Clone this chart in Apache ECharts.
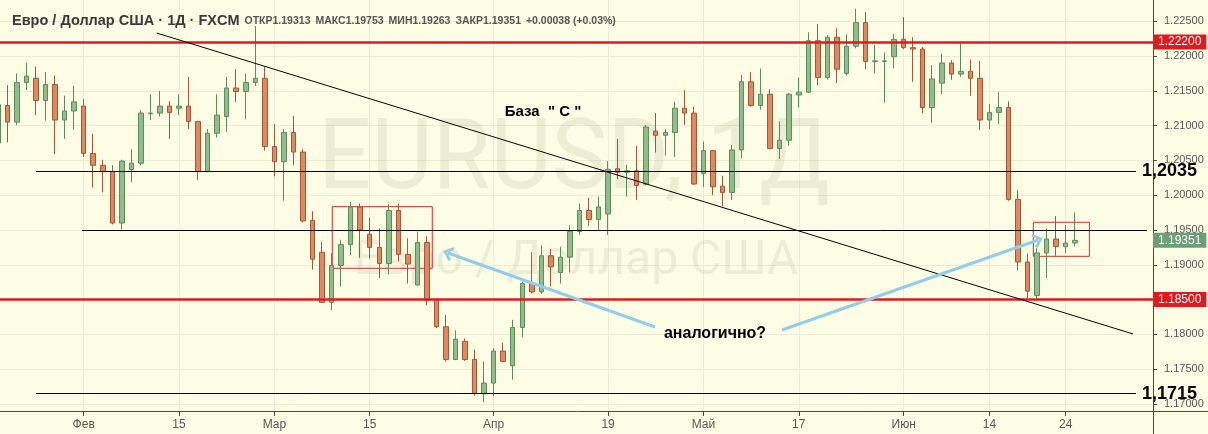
<!DOCTYPE html>
<html><head><meta charset="utf-8">
<script src="https://cdn.jsdelivr.net/npm/echarts@6/dist/echarts.min.js"></script>
<style>html,body{margin:0;padding:0;background:#fff;}#c{width:1208px;height:434px;}</style>
</head><body><div id="c"></div>
<script>
// ---- data (EUR/USD daily, FXCM) ----
const dates = ['2021-01-19','2021-01-20','2021-01-21','2021-01-22','2021-01-25','2021-01-26','2021-01-27','2021-01-28','2021-01-29',
'2021-02-01','2021-02-02','2021-02-03','2021-02-04','2021-02-05','2021-02-08','2021-02-09','2021-02-10','2021-02-11','2021-02-12',
'2021-02-15','2021-02-16','2021-02-17','2021-02-18','2021-02-19','2021-02-22','2021-02-23','2021-02-24','2021-02-25','2021-02-26',
'2021-03-01','2021-03-02','2021-03-03','2021-03-04','2021-03-05','2021-03-08','2021-03-09','2021-03-10','2021-03-11','2021-03-12',
'2021-03-15','2021-03-16','2021-03-17','2021-03-18','2021-03-19','2021-03-22','2021-03-23','2021-03-24','2021-03-25','2021-03-26',
'2021-03-29','2021-03-30','2021-03-31','2021-04-01','2021-04-02','2021-04-05','2021-04-06','2021-04-07','2021-04-08','2021-04-09',
'2021-04-12','2021-04-13','2021-04-14','2021-04-15','2021-04-16','2021-04-19','2021-04-20','2021-04-21','2021-04-22','2021-04-23',
'2021-04-26','2021-04-27','2021-04-28','2021-04-29','2021-04-30','2021-05-03','2021-05-04','2021-05-05','2021-05-06','2021-05-07',
'2021-05-10','2021-05-11','2021-05-12','2021-05-13','2021-05-14','2021-05-17','2021-05-18','2021-05-19','2021-05-20','2021-05-21',
'2021-05-24','2021-05-25','2021-05-26','2021-05-27','2021-05-28','2021-05-31','2021-06-01','2021-06-02','2021-06-03','2021-06-04',
'2021-06-07','2021-06-08','2021-06-09','2021-06-10','2021-06-11','2021-06-14','2021-06-15','2021-06-16','2021-06-17','2021-06-18',
'2021-06-21','2021-06-22','2021-06-23','2021-06-24','2021-06-25'];
const open = [1.2075,1.2129,1.2105,1.2162,1.2168,1.2136,1.2159,1.2108,1.2121,
1.2128,1.2060,1.2043,1.2034,1.1960,1.2037,1.2046,1.2117,1.2118,1.2128,
1.2125,1.2128,1.2106,1.2034,1.2089,1.2113,1.2154,1.2149,1.2162,1.2168,
1.2070,1.2048,1.2090,1.2062,1.1964,1.1918,1.1846,1.1899,1.1929,1.1983,
1.1944,1.1925,1.1902,1.1978,1.1915,1.1871,1.1932,1.1849,1.1811,1.1764,
1.1790,1.1764,1.1715,1.1730,1.1776,1.1755,1.1810,1.1874,1.1861,1.1913,
1.1889,1.1911,1.1948,1.1978,1.1965,1.1973,1.2038,1.2033,1.2035,1.2016,
1.2092,1.2086,1.2090,1.2125,1.2118,1.2031,1.2064,1.2013,1.2004,1.2065,
1.2163,1.2129,1.2145,1.2067,1.2079,1.2144,1.2148,1.2222,1.2169,1.2227,
1.2175,1.2214,1.2248,1.2192,1.2192,1.2199,1.2224,1.2212,1.2210,1.2126,
1.2161,1.2190,1.2174,1.2178,1.2168,1.2108,1.2119,1.2126,1.1994,1.1904,
1.1856,1.1917,1.1937,1.1926,1.19313];
const close = [1.2130,1.2105,1.2162,1.2171,1.2136,1.2159,1.2108,1.2121,1.2134,
1.2060,1.2043,1.2034,1.1960,1.2049,1.2046,1.2118,1.2118,1.2128,1.2119,
1.2128,1.2106,1.2034,1.2089,1.2115,1.2154,1.2149,1.2162,1.2168,1.2070,
1.2048,1.2090,1.2062,1.1963,1.1908,1.1846,1.1899,1.1929,1.1983,1.1950,
1.1925,1.1902,1.1978,1.1915,1.1901,1.1932,1.1849,1.1811,1.1764,1.1793,
1.1764,1.1715,1.1730,1.1776,1.1761,1.1810,1.1873,1.1861,1.1913,1.1897,
1.1911,1.1948,1.1978,1.1965,1.1983,1.2037,1.2033,1.2035,1.2014,1.2098,
1.2086,1.2090,1.2125,1.2118,1.2016,1.2064,1.2012,1.2004,1.2065,1.2163,
1.2129,1.2145,1.2067,1.2079,1.2145,1.2148,1.2222,1.2169,1.2227,1.2181,
1.2214,1.2248,1.2192,1.2193,1.2193,1.2224,1.2212,1.2210,1.2126,1.2167,
1.2190,1.2174,1.2178,1.2168,1.2108,1.2119,1.2126,1.1994,1.1904,1.1862,
1.1917,1.1937,1.1926,1.19313,1.19351];
const low = [1.2070,1.2076,1.2101,1.2151,1.2115,1.2107,1.2059,1.2081,1.2094,
1.2055,1.2011,1.2004,1.1958,1.1951,1.2019,1.2043,1.2108,1.2113,1.2081,
1.2115,1.2095,1.2022,1.2033,1.2083,1.2091,1.2134,1.2109,1.2157,1.2064,
1.2027,1.1992,1.2043,1.1961,1.1893,1.1845,1.1835,1.1869,1.1914,1.1910,
1.1909,1.1881,1.1886,1.1905,1.1873,1.1870,1.1842,1.1809,1.1761,1.1763,
1.1762,1.1712,1.1703,1.1711,1.1760,1.1735,1.1796,1.1859,1.1858,1.1869,
1.1873,1.1889,1.1943,1.1956,1.1950,1.1943,1.2023,1.1998,1.1993,1.2014,
1.2061,1.2057,1.2055,1.2101,1.2015,1.2012,1.2000,1.1984,1.1993,1.2053,
1.2127,1.2123,1.2066,1.2052,1.2071,1.2126,1.2147,1.2158,1.2166,1.2161,
1.2172,1.2211,1.2181,1.2175,1.2133,1.2182,1.2210,1.2163,1.2118,1.2104,
1.2145,1.2166,1.2170,1.2143,1.2094,1.2095,1.2102,1.1992,1.1892,1.1852,
1.1848,1.1881,1.1913,1.1917,1.19263];
const high = [1.2145,1.2158,1.2175,1.2190,1.2185,1.2177,1.2172,1.2143,1.2157,
1.2138,1.2088,1.2051,1.2043,1.2051,1.2066,1.2122,1.2145,1.2150,1.2135,
1.2145,1.2170,1.2107,1.2095,1.2145,1.2170,1.2181,1.2175,1.2243,1.2184,
1.2102,1.2095,1.2114,1.2066,1.1977,1.1933,1.1917,1.1936,1.1990,1.1988,
1.1968,1.1952,1.1987,1.1988,1.1938,1.1948,1.1941,1.1851,1.1828,1.1806,
1.1794,1.1778,1.1761,1.1780,1.1788,1.1821,1.1876,1.1918,1.1928,1.1923,
1.1926,1.1957,1.1988,1.1996,1.1998,1.2049,1.2081,1.2044,1.2071,1.2101,
1.2118,1.2095,1.2134,1.2151,1.2127,1.2077,1.2065,1.2028,1.2072,1.2173,
1.2177,1.2182,1.2152,1.2106,1.2147,1.2169,1.2234,1.2246,1.2230,1.2240,
1.2231,1.2268,1.2263,1.2216,1.2205,1.2232,1.2256,1.2227,1.2213,1.2187,
1.2203,1.2194,1.2219,1.2195,1.2193,1.2131,1.2148,1.2135,1.2007,1.1916,
1.1924,1.1952,1.1970,1.1957,1.19753];
const xTickDates = ['2021-02-01','2021-02-15','2021-03-01','2021-03-15','2021-04-01','2021-04-19','2021-05-03','2021-05-17','2021-06-01','2021-06-14','2021-06-24'];
const xTickLabels = ['Фев','15','Мар','15','Апр','19','Май','17','Июн','14','24'];
const yTicks = [1.170,1.175,1.180,1.185,1.190,1.195,1.200,1.205,1.210,1.215,1.220,1.225];
const redLevels = [1.222, 1.185];
const blackLevels = [1.2035, 1.195, 1.1715];
const blackLabels = ['1,2035', '', '1,1715'];

// ---- annotation geometry (bar-index / price space) ----
const blackSpan = [[4.0, 119.37], [8.82, 120.53], [4.0, 119.37]];
const trend = [[16.66, 1.2233], [119.06, 1.18006]];
const boxes = [[[35.07, 1.19835], [45.56, 1.1895]], [[108.6, 1.19611], [114.48, 1.19122]]];
const arrows = [[[68.92, 1.18106], [47.21, 1.19170]], [[82.24, 1.18063], [109.1, 1.19356]]];

const last = dates.length - 1;
const chg = close[last] - close[last - 1];
const pct = chg / close[last - 1] * 100;
const tickIdx = xTickDates.map(d => dates.indexOf(d));
const candles = dates.map((d, i) => [i, open[i], close[i], low[i], high[i]]);

const chart = echarts.init(document.getElementById('c'), null, {renderer: 'canvas'});
const FONT = 'Liberation Sans, Arial, sans-serif';
const markLines = [];
redLevels.forEach(v => markLines.push({
  yAxis: v,
  lineStyle: {color: '#e0191e', width: 2.5, type: 'solid'},
  label: {show: true, position: 'end', distance: 0, formatter: v.toFixed(5), backgroundColor: '#e0191e',
          color: '#fff', fontSize: 12, fontFamily: FONT, padding: [2, 5, 1, 5]}
}));
markLines.push({
  yAxis: close[last],
  lineStyle: {color: 'rgba(0,0,0,0)', width: 0},
  label: {show: true, position: 'end', distance: 0, formatter: close[last].toFixed(5), backgroundColor: '#6c9f79',
          color: '#fff', fontSize: 12, fontFamily: FONT, padding: [2, 5, 1, 5]}
});
blackLevels.forEach((v, k) => markLines.push([
  {coord: [blackSpan[k][0], v], symbol: 'none'},
  {coord: [blackSpan[k][1], v], symbol: 'none',
   lineStyle: {color: '#000', width: 1, type: 'solid'},
   label: {show: !!blackLabels[k], position: 'end', distance: 6, formatter: blackLabels[k], color: '#000',
           fontSize: 18, fontWeight: 'bold', fontFamily: FONT}}
]));
markLines.push([
  {coord: trend[0], symbol: 'none'},
  {coord: trend[1], symbol: 'none', lineStyle: {color: '#000', width: 1, type: 'solid'}, label: {show: false}}
]);
const chevron = 'path://M0,10 L10,0 L20,10 L17,12 L10,5 L3,12 Z';
arrows.forEach(a => markLines.push([
  {coord: a[0], symbol: 'none'},
  {coord: a[1], symbol: chevron, symbolSize: [15, 10], lineStyle: {color: '#93cde8', width: 3, type: 'solid'},
   itemStyle: {color: '#93cde8'}, label: {show: false}}
]));

const option = {
  backgroundColor: '#fdfde6',
  animation: false,
  title: {
    left: 7, top: 7,
    text: '{n|Евро / Доллар США · 1Д · FXCM} {l|ОТКР}{v|' + open[last].toFixed(5) + '} {l|МАКС}{v|' + high[last].toFixed(5) +
          '} {l|МИН}{v|' + low[last].toFixed(5) + '} {l|ЗАКР}{v|' + close[last].toFixed(5) + '} {v|' +
          (chg >= 0 ? '+' : '') + chg.toFixed(5) + ' (' + (pct >= 0 ? '+' : '') + pct.toFixed(2) + '%)}',
    textStyle: {rich: {
      n: {fontSize: 14.5, color: '#3a3a3a', fontFamily: FONT},
      l: {fontSize: 10.5, color: '#555', fontFamily: FONT},
      v: {fontSize: 10.5, color: '#555', fontFamily: FONT}
    }}
  },
  graphic: [
    {type: 'text', x: 574, y: 163, z: 1, scaleX: 0.96,
     style: {text: 'EURUSD, 1Д', font: '98px Roboto', fill: 'rgba(90,100,50,0.10)', textAlign: 'center', textVerticalAlign: 'middle'}},
    {type: 'text', x: 576, y: 262, z: 1,
     style: {text: 'Евро / Доллар США', font: '48px Roboto', fill: 'rgba(90,100,50,0.10)', textAlign: 'center', textVerticalAlign: 'middle'}},
    {type: 'line', silent: true, shape: {x1: 1153.5, y1: 411, x2: 1153.5, y2: 434}, style: {stroke: '#4a4a4a', lineWidth: 1}},
    {type: 'line', silent: true, shape: {x1: 1153, y1: 411.5, x2: 1208, y2: 411.5}, style: {stroke: '#4a4a4a', lineWidth: 1}}
  ],
  grid: {left: 0, right: 55, top: 0, bottom: 23},
  xAxis: {
    type: 'value', min: 0.2206, max: 121.155,
    axisLine: {show: true, onZero: false, lineStyle: {color: '#4a4a4a', width: 1}},
    axisTick: {show: true, length: 5, customValues: tickIdx, lineStyle: {color: '#4a4a4a'}},
    axisLabel: {customValues: tickIdx, margin: 8, fontSize: 12, color: '#555', fontFamily: FONT,
      formatter: v => { const k = tickIdx.indexOf(Math.round(v)); return k >= 0 ? xTickLabels[k] : ''; }},
    splitLine: {show: true, lineStyle: {color: '#ebecd3', width: 1}}
  },
  yAxis: {
    type: 'value', position: 'right', min: 1.168994, max: 1.228046, scale: true,
    axisLine: {show: true, lineStyle: {color: '#4a4a4a', width: 1}},
    axisTick: {show: true, length: 4, customValues: yTicks, lineStyle: {color: '#4a4a4a'}},
    axisLabel: {customValues: yTicks, margin: 11, fontSize: 11, color: '#555', fontFamily: FONT,
      formatter: v => v.toFixed(5)},
    splitLine: {show: true, lineStyle: {color: '#ebecd3', width: 1}}
  },
  series: [{
    type: 'candlestick',
    data: candles,
    encode: {x: 0, y: [1, 2, 3, 4]},
    barWidth: 5,
    itemStyle: {color: '#8fbd8b', color0: '#e2875f', borderColor: '#5d8c59', borderColor0: '#9c5a38', borderWidth: 1},
    markLine: {silent: true, symbol: 'none', precision: 6, animation: false, label: {show: false}, data: markLines},
    markArea: {silent: true, data: boxes.map(b => [
      {coord: b[0], itemStyle: {color: 'rgba(0,0,0,0)', borderColor: '#d42a2a', borderWidth: 1}},
      {coord: b[1]}
    ])},
    markPoint: {silent: true, symbol: 'rect', symbolSize: 1, itemStyle: {color: 'rgba(0,0,0,0)'},
      data: [
        {coord: [57.17, 1.21195], label: {show: true, position: 'inside', formatter: 'База  " С "', color: '#000', fontSize: 15, fontWeight: 'bold', fontFamily: FONT}},
        {coord: [75.22, 1.18006], label: {show: true, position: 'inside', formatter: 'аналогично?', color: '#000', fontSize: 16, fontWeight: 'bold', fontFamily: FONT}}
      ]}
  }]
};
chart.setOption(option);
</script>
</body></html>
